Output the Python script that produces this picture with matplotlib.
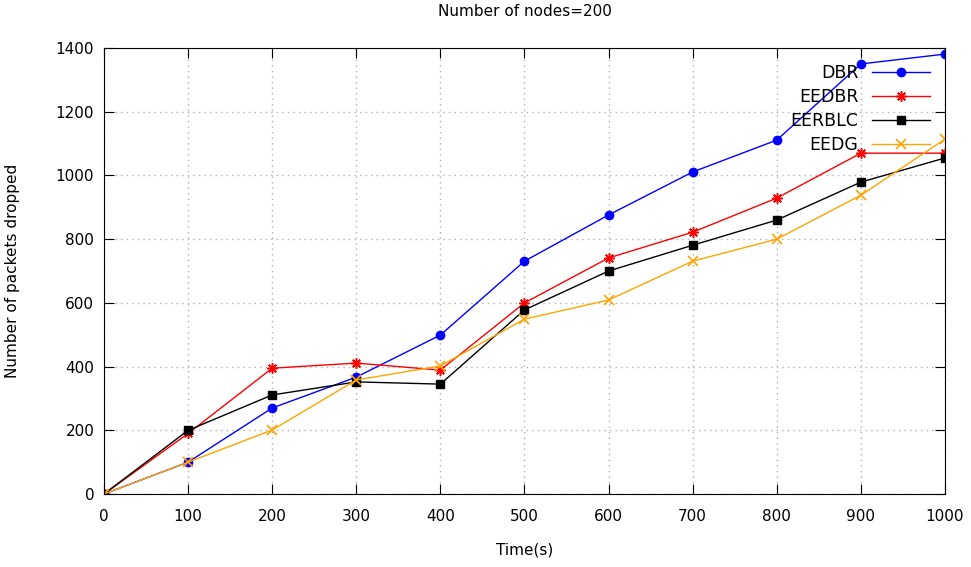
import matplotlib
matplotlib.use("Agg")
import matplotlib.pyplot as plt

# Data
time_s = [0, 100, 200, 300, 400, 500, 600, 700, 800, 900, 1000]
dbr = [0, 100, 270, 367, 499, 731, 876, 1011, 1111, 1350, 1381]
eedbr = [0, 190, 395, 411, 389, 600, 741, 822, 929, 1070, 1070]
eerblc = [0, 200, 311, 352, 345, 578, 700, 781, 860, 979, 1055]
eedg = [0, 100, 201, 358, 402, 549, 609, 731, 800, 938, 1114]

x_ticks = [0, 100, 200, 300, 400, 500, 600, 700, 800, 900, 1000]
y_ticks = [0, 200, 400, 600, 800, 1000, 1200, 1400]

plt.rcParams["font.family"] = ["DejaVu Sans"]

fig = plt.figure(figsize=(9.71, 5.67), dpi=100)
ax = fig.add_axes([0.1071, 0.1287, 0.8661, 0.7866])

ax.plot(time_s, dbr, color="#0000ff", lw=1, marker="o", ms=6, label="DBR")
ax.plot(time_s, eedbr, color="#ff0000", lw=1, marker=(8, 2, 0), ms=7.5, mew=1.1, label="EEDBR")
ax.plot(time_s, eerblc, color="black", lw=1, marker="s", ms=6, label="EERBLC")
ax.plot(time_s, eedg, color="#ffa500", lw=1, marker="x", ms=7, mew=1.2, label="EEDG")

ax.set_xlim(0, 1000)
ax.set_ylim(0, 1400)
ax.set_xticks(x_ticks)
ax.set_yticks(y_ticks)
ax.tick_params(direction="in", length=7, top=True, right=True, labelsize=11)
ax.tick_params(axis="x", pad=11)
ax.tick_params(axis="y", pad=7)
ax.grid(True, color="#b0b0b0", linestyle=(0, (1, 3)), lw=1)

ax.set_xlabel("Time(s)", fontsize=11, labelpad=13)
ax.set_ylabel("Number of packets dropped", fontsize=11, labelpad=26)
ax.set_title("Number of nodes=200", fontsize=11, pad=23)

ax.legend(loc="upper right", bbox_to_anchor=(0.99, 0.98), frameon=False, markerfirst=False,
          fontsize=12.5, handlelength=3.3, labelspacing=0.35, borderaxespad=0)

plt.savefig("out.png", dpi=100)
